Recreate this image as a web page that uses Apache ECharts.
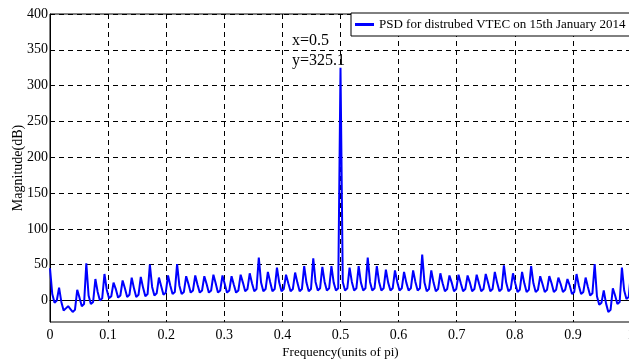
<!DOCTYPE html>
<html>
<head>
<meta charset="utf-8">
<script src="https://cdn.jsdelivr.net/npm/echarts@6/dist/echarts.min.js"></script>
<style>
  html, body { margin: 0; padding: 0; background: #fff; }
  #chart { width: 629px; height: 360px; }
</style>
</head>
<body>
<div id="chart"></div>
<script>
// Power spectral density of the disturbed VTEC record, 256 frequency bins over 0..pi
const binCount = 256;
const magnitude = [
  45, 9, -3, 0,     18, -2, -14, -11,  -8, -12, -16, -13,  15, 4, -8, -5,
  52, 7, -5, -2,    30, 12, 0, 3,      37, 15, 3, 6,       25, 16, 4, 7,
  28, 17, 5, 8,     32, 17, 5, 8,      33, 18, 6, 9,       50, 19, 7, 10,
  32, 20, 8, 11,    35, 21, 9, 12,     51, 21, 9, 12,      34, 23, 11, 14,
  35, 22, 11, 14,   34, 23, 11, 14,    36, 24, 11, 14,     35, 23, 11, 14,
  34, 22, 11, 14,   36, 25, 13, 16,    38, 24, 13, 16,     60, 25, 13, 16,
  40, 26, 13, 16,   46, 25, 13, 16,    36, 24, 13, 16,     39, 25, 13, 16,
  48, 25, 13, 16,   59, 26, 14, 17,    47, 26, 14, 17,     48, 25, 14, 17,
  325.1, 26, 14, 17, 46, 26, 14, 17,   48, 25, 14, 17,     60, 26, 14, 17,
  48, 26, 14, 17,   43, 25, 14, 17,    42, 26, 14, 17,     40, 25, 14, 17,
  42, 26, 14, 17,   64, 25, 13, 16,    42, 25, 13, 16,     38, 24, 13, 16,
  35, 25, 13, 16,   36, 24, 13, 16,    35, 25, 13, 16,     36, 24, 13, 16,
  37, 25, 13, 16,   40, 25, 13, 16,    49, 25, 13, 16,     38, 24, 12, 15,
  40, 24, 12, 15,   48, 24, 12, 15,    34, 23, 12, 15,     34, 24, 12, 15,
  32, 23, 12, 15,   30, 21, 9, 12,     37, 21, 9, 12,      32, 19, 7, 10,
  51, 6, -6, -3,    14, -4, -16, -13,  17, 7, -5, -2,      46, 14, 2, 5,
  40
];
const frequency = magnitude.map((_, i) => i / binCount);
const xTicks = [0, 0.1, 0.2, 0.3, 0.4, 0.5, 0.6, 0.7, 0.8, 0.9, 1];
const yTicks = [0, 50, 100, 150, 200, 250, 300, 350, 400];
const seriesName = 'PSD for distrubed VTEC on 15th January 2014';
const peakIndex = 128;

const serif = 'Liberation Serif, Times New Roman, serif';
const gridLine = { show: true, lineStyle: { color: '#000', type: [5, 4], width: 1 } };

const chart = echarts.init(document.getElementById('chart'), null, { renderer: 'canvas' });
chart.setOption({
  animation: false,
  backgroundColor: '#fff',
  grid: {
    left: 50, right: -2, top: 14, bottom: 38,
    outerBoundsMode: 'none', containLabel: false,
    show: true, borderColor: '#000', borderWidth: 1
  },
  legend: {
    data: [{ name: seriesName, icon: 'rect' }],
    left: 351, top: 13,
    itemWidth: 19, itemHeight: 3,
    padding: [4, 6, 4, 4],
    borderColor: '#000', borderWidth: 1, backgroundColor: '#fff',
    textStyle: { fontFamily: serif, fontSize: 13, color: '#000', lineHeight: 15 }
  },
  xAxis: {
    type: 'value', min: 0, max: 1, interval: 0.1,
    name: 'Frequency(units of pi)', nameLocation: 'middle', nameGap: 24,
    nameMoveOverlap: false,
    nameTextStyle: { fontFamily: serif, fontSize: 13, color: '#000' },
    axisLine: { show: true, lineStyle: { color: '#000', width: 1 } },
    axisTick: { show: true, inside: true, length: 4, lineStyle: { color: '#000' } },
    axisLabel: {
      fontFamily: serif, fontSize: 14, color: '#000', margin: 6,
      formatter: v => String(+v.toFixed(1))
    },
    splitLine: gridLine
  },
  yAxis: {
    type: 'value', min: -30, max: 400,
    name: 'Magnitude(dB)', nameLocation: 'middle', nameGap: 25,
    nameMoveOverlap: false,
    nameTextStyle: { fontFamily: serif, fontSize: 14, color: '#000' },
    axisLine: { show: true, lineStyle: { color: '#000', width: 1 } },
    axisTick: { show: true, inside: true, length: 4, customValues: yTicks, lineStyle: { color: '#000' } },
    axisLabel: { fontFamily: serif, fontSize: 14, color: '#000', margin: 2, customValues: yTicks },
    splitLine: gridLine
  },
  series: [{
    name: seriesName,
    type: 'line',
    data: frequency.map((f, i) => [f, magnitude[i]]),
    showSymbol: false,
    lineStyle: { color: '#0000ff', width: 2 },
    itemStyle: { color: '#0000ff' },
    markPoint: {
      symbol: 'circle', symbolSize: 1,
      itemStyle: { color: 'rgba(0,0,0,0)' },
      data: [{ coord: [frequency[peakIndex], magnitude[peakIndex]] }],
      label: {
        show: true, position: [-48, -36], align: 'left', verticalAlign: 'top',
        fontFamily: serif, fontSize: 16, lineHeight: 20, color: '#000',
        formatter: p => 'x=' + p.data.coord[0] + '\ny=' + p.data.coord[1]
      }
    }
  }]
});
</script>
</body>
</html>
